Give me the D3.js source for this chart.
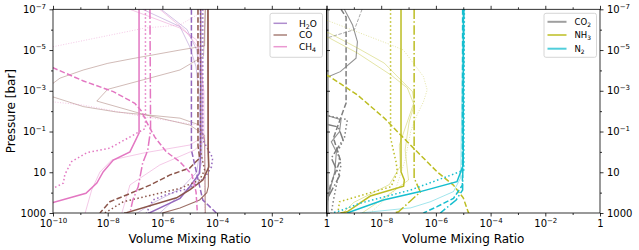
<!DOCTYPE html>
<html>
<head>
<meta charset="utf-8">
<script src="https://cdn.jsdelivr.net/npm/d3@7"></script>
<style>
body { margin: 0; background: #fff; }
text { font-family: "DejaVu Sans", sans-serif; }
</style>
</head>
<body>
<div id="chart"></div>
<script>
// ---- profiles: [volume mixing ratio, pressure in bar] ----
// left panel
var h2oSolid  = [[2.5e-5,1e-7],[2.5e-5,0.8],[2.3e-5,11],[1e-5,51],[4.4e-6,190],[3.5e-7,960],[3e-7,1000]];
var h2oDashed = [[1.15e-5,1e-7],[1.15e-5,0.8],[1.95e-5,19],[3e-5,230],[9.4e-5,1000]];
var h2oDotted = [[3e-5,1e-7],[3e-5,0.26],[6.9e-5,2],[6.2e-5,5.5],[3.5e-5,19],[1e-5,60],[1.5e-6,120],[4.5e-7,230],[2.6e-7,1000]];
var h2oThin1  = [[1.9e-7,1e-7],[4.4e-6,7.1e-7],[1e-5,6.9e-6],[1.7e-5,6.6e-5],[2.3e-5,2.8e-3],[2.3e-5,1],[1.8e-5,10],[5e-6,60],[5e-7,300],[1.2e-7,1000]];
var h2oThin2  = [[9e-7,1e-7],[8e-6,1e-6],[1.8e-5,1e-5],[2.8e-5,1e-3],[2.8e-5,3],[1.5e-5,40],[3e-6,200],[8e-7,1000]];

var coSolid  = [[4.6e-5,1e-7],[4.7e-5,0.8],[5e-5,5.4],[3e-5,24],[1e-5,74],[3.3e-6,180],[4.9e-8,960],[4e-8,1000]];
var coDashed = [[2e-5,1e-7],[2e-5,0.5],[2.3e-5,2],[1e-5,6.2],[1.9e-6,13.5],[3.5e-7,43],[4.9e-8,130],[1.2e-8,280],[5.2e-9,1000]];
var coDotted = [[2.5e-5,1e-7],[2.5e-5,1],[3.5e-5,7.8],[2.3e-5,24],[4.4e-6,62],[3.7e-8,280],[7.9e-9,1000]];
var coMid    = [[4.7e-5,1e-7],[4.8e-5,50],[4.2e-5,100],[2.3e-5,230],[4.4e-6,570],[1e-6,1000]];
var coThin1  = [[3.7e-5,1e-7],[3.5e-5,6.3e-6],[4.4e-6,1e-5],[8.5e-8,2.6e-5],[1e-8,4.5e-5],[1.3e-9,9.5e-5],[1.8e-10,2.4e-4],[1e-10,4.3e-4],[2e-11,1.1e-3],[1e-10,2e-3],[1.3e-9,6e-3],[2.1e-8,0.011],[2.3e-7,0.015],[4.4e-6,0.022],[2.3e-5,0.048],[3.5e-5,0.26],[3.7e-5,1000]];
var coThin2  = [[3.7e-5,1e-7],[3.2e-5,2e-5],[4.4e-6,9.5e-5],[1e-8,8.5e-4],[4e-9,3.2e-3],[2.3e-7,0.015],[1e-5,0.048],[3.5e-5,0.15],[3.7e-5,1000]];

var ch4Solid   = [[1.4e-7,1e-7],[1.4e-7,0.12],[6.5e-8,1],[1.6e-8,2.5],[6.9e-9,9.4],[4e-9,34],[1.6e-9,107],[1e-10,310],[4e-11,600]];
var ch4Dotted  = [[2.4e-7,1e-7],[2.4e-7,0.07],[1.2e-8,0.65],[1.7e-9,1.1],[4.8e-10,3],[2.7e-10,13],[2.4e-10,34],[1e-10,62],[4e-11,100]];
var ch4DashDot = [[3.5e-7,1e-7],[3.7e-7,0.085],[2.9e-7,0.85],[1.9e-7,3.5],[1.3e-7,52],[8.3e-8,230],[6.5e-8,1000]];
var ch4Dashed  = [[3e-11,3e-5],[1e-10,7.4e-5],[1.3e-9,3.3e-4],[1.6e-8,1.1e-3],[9.8e-8,4.1e-3],[1.7e-7,9.8e-3],[2.6e-7,0.033],[5.3e-7,0.19],[1.4e-6,1],[4.4e-6,3.1],[1.2e-5,13],[1.7e-5,93],[1.9e-5,1000]];
var ch4Thin1   = [[6.5e-8,1e-7],[4.4e-6,8.3e-7],[1.8e-5,3.2e-6],[2.8e-5,4.4e-5],[3e-5,1.3e-3],[2.8e-5,0.2],[1e-5,0.46],[2.3e-7,1.1],[1.4e-8,2.5],[5.2e-9,9.7],[2.6e-9,74],[1.5e-9,1000]];
var ch4Thin2   = [[8e-7,1e-7],[6.3e-6,1e-6],[2e-5,7e-6],[3.3e-5,1e-3],[3.3e-5,0.3],[1.5e-5,0.81],[8e-7,4.4],[6.5e-8,42],[3.3e-8,1000]];
var ch4ThinDot = [[4e-5,1e-7],[4.4e-6,5.9e-7],[2.3e-7,8.3e-7],[1e-10,6.9e-6],[1e-11,2e-4],[1e-10,3.5e-3],[1.2e-9,5e-3],[2.3e-7,0.019],[2.3e-5,0.05],[3.5e-5,0.3],[3.5e-5,1000]];

// right panel
var co2Edge    = [[1.08e-10,1e-7],[1.08e-10,1000]];
var co2Dashed  = [[3.4e-10,1e-7],[5.2e-10,2.4e-7],[5.2e-10,4e-3],[3.4e-10,0.019],[2.7e-10,0.045],[1.8e-10,0.21],[3.2e-10,2.5],[1.4e-10,42],[1e-10,230],[6e-11,1000]];
var co2Curve   = [[4.5e-10,1e-7],[9e-10,5.9e-7],[1.35e-9,3.9e-6],[1.2e-9,2.5e-5],[3.2e-10,1.15e-4],[1.1e-10,2.1e-4],[3e-11,4e-4],[5e-11,0.012],[3.4e-10,0.026],[3e-10,0.1],[1.5e-10,0.32],[2.3e-10,1],[2e-10,9.4],[1.3e-10,90],[9e-11,1000]];
var co2ThinDash = [[2e-9,1e-7],[1.05e-9,1e-6],[1.5e-10,2.2e-6],[3e-11,4e-6]];
var co2Dotted  = [[3e-11,1e-7],[3e-11,0.012],[5.8e-10,0.026],[4.5e-10,0.21],[2.5e-10,1],[3.4e-10,4.4],[2.3e-10,43],[1.8e-10,230],[1.5e-10,1000]];
var co2DashDot = [[3e-11,1e-7],[3e-11,0.03],[2.7e-10,0.06],[4e-10,0.25],[1.5e-10,2],[3e-10,15],[1.2e-10,150],[8e-11,1000]];

var nh3Solid   = [[5.3e-8,1e-7],[5.3e-8,9.4],[7e-8,24],[6.6e-8,48],[4e-9,147],[5.7e-10,870],[3.2e-10,1000]];
var nh3Dotted  = [[2.2e-8,1e-7],[2.2e-8,0.21],[3.5e-8,3.2],[3.9e-8,9.4],[2.3e-8,51],[3e-10,280],[2.6e-10,1000]];
var nh3DashDot = [[1.6e-7,1e-7],[1.6e-7,19],[2.7e-7,93],[4.3e-8,870],[2.8e-8,1000]];
var nh3Dashed  = [[5e-11,1.2e-4],[1.3e-10,2e-4],[1.35e-9,1.6e-3],[1.3e-8,0.022],[9e-8,0.32],[1.1e-6,9.4],[4.4e-6,43],[1e-5,180],[1.5e-5,870],[1.6e-5,1000]];
var nh3Thin1   = [[3e-11,8e-7],[1.3e-10,1.5e-6],[1.35e-9,7.9e-6],[1.3e-8,4.4e-5],[5.3e-8,3e-4],[1.4e-7,1.1e-3],[1.6e-7,3.5e-3],[1.2e-7,0.011],[4.6e-8,0.46],[5e-8,5],[2e-8,40],[1e-9,300],[4e-10,1000]];
var nh3Thin2   = [[3e-11,1.3e-6],[1.3e-10,2.6e-6],[1.35e-9,1.4e-5],[2.3e-8,1.7e-4],[9e-8,7.2e-4],[1.6e-7,5e-3],[1.05e-7,0.034],[7.5e-8,0.8],[1e-7,24],[1e-8,230],[2e-9,1000]];
var nh3ThinDot = [[3e-11,2e-7],[1e-10,3.4e-7],[2.3e-8,5.6e-6],[6.5e-8,1e-5],[3.5e-7,2e-4],[4.8e-7,9e-4],[3.5e-7,3.5e-3],[2e-7,0.016],[1.2e-7,0.1],[7.5e-8,2.5],[3.3e-8,74],[4e-9,1000]];

var n2Solid   = [[1.02e-5,1e-7],[1e-5,4.4],[5.9e-6,29],[2.7e-7,89],[1.2e-8,230],[5.7e-10,1000]];
var n2Dotted  = [[1.1e-5,1e-7],[1.05e-5,7.8],[2.5e-6,16.5],[1.2e-7,74],[1.7e-9,330],[3e-10,800],[1.5e-10,1000]];
var n2Thin    = [[1e-5,1e-7],[8e-6,19],[4.4e-6,89],[6.3e-7,280],[1.2e-7,560],[1.7e-9,1000]];
var n2Dashed  = [[9.5e-6,1e-7],[9.3e-6,43],[4.4e-6,190],[1.1e-6,490],[3.5e-7,1000]];
var n2DashDot = [[1.05e-5,1e-7],[9.5e-6,74],[5.5e-6,230],[1.45e-6,1000]];

// ticks and legend names
var xMajor = [1e-10, 1e-8, 1e-6, 1e-4, 1e-2, 1];
var xMinor = [1e-9, 1e-7, 1e-5, 1e-3, 1e-1];
var yMajor = [1e-7, 1e-5, 1e-3, 1e-1, 10, 1000];
var yMinor = [1e-6, 1e-4, 1e-2, 1, 100];
var leftSpecies = [["H", "2", "O", "H2O"], ["CO", "", "", "CO"], ["CH", "4", "", "CH4"]];
var rightSpecies = [["CO", "2", "", "CO2"], ["NH", "3", "", "NH3"], ["N", "2", "", "N2"]];

var colors = {H2O: "#9467bd", CO: "#8c564b", CH4: "#e377c2", CO2: "#7f7f7f", NH3: "#bcbd22", N2: "#17becf"};
var styles = {
	solid:   {w: 1.5, dash: null, op: 1},
	dashed:  {w: 1.5, dash: "5.5,2.4", op: 1},
	dotted:  {w: 1.5, dash: "1.5,2.5", op: 1},
	dashdot: {w: 1.5, dash: "9.6,2.4,1.5,2.4", op: 1},
	mid:     {w: 1.1, dash: null, op: 0.85},
	edge:    {w: 2.6, dash: null, op: 0.9},
	thin:    {w: 0.8, dash: null, op: 0.5},
	thinDot: {w: 0.9, dash: "1,1.6", op: 0.45},
	thinDash:{w: 0.9, dash: "3.5,1.5", op: 0.75}
};

var runs = [
	{p: 0, sp: "H2O", k: "thin", d: h2oThin1}, {p: 0, sp: "H2O", k: "thin", d: h2oThin2},
	{p: 0, sp: "CO", k: "thin", d: coThin1}, {p: 0, sp: "CO", k: "thin", d: coThin2},
	{p: 0, sp: "CH4", k: "thin", d: ch4Thin1}, {p: 0, sp: "CH4", k: "thin", d: ch4Thin2},
	{p: 0, sp: "CH4", k: "thinDot", d: ch4ThinDot},
	{p: 0, sp: "H2O", k: "solid", d: h2oSolid}, {p: 0, sp: "H2O", k: "dashed", d: h2oDashed},
	{p: 0, sp: "H2O", k: "dotted", d: h2oDotted},
	{p: 0, sp: "CO", k: "solid", d: coSolid}, {p: 0, sp: "CO", k: "dashed", d: coDashed},
	{p: 0, sp: "CO", k: "dotted", d: coDotted}, {p: 0, sp: "CO", k: "mid", d: coMid},
	{p: 0, sp: "CH4", k: "solid", d: ch4Solid}, {p: 0, sp: "CH4", k: "dashed", d: ch4Dashed},
	{p: 0, sp: "CH4", k: "dotted", d: ch4Dotted}, {p: 0, sp: "CH4", k: "dashdot", d: ch4DashDot},

	{p: 1, sp: "CO2", k: "edge", d: co2Edge},
	{p: 1, sp: "CO2", k: "mid", d: co2Curve}, {p: 1, sp: "CO2", k: "thinDash", d: co2ThinDash},
	{p: 1, sp: "NH3", k: "thin", d: nh3Thin1}, {p: 1, sp: "NH3", k: "thin", d: nh3Thin2},
	{p: 1, sp: "NH3", k: "thinDot", d: nh3ThinDot},
	{p: 1, sp: "N2", k: "thin", d: n2Thin},
	{p: 1, sp: "CO2", k: "dashed", d: co2Dashed}, {p: 1, sp: "CO2", k: "dotted", d: co2Dotted},
	{p: 1, sp: "CO2", k: "dashdot", d: co2DashDot},
	{p: 1, sp: "NH3", k: "solid", d: nh3Solid}, {p: 1, sp: "NH3", k: "dotted", d: nh3Dotted},
	{p: 1, sp: "NH3", k: "dashdot", d: nh3DashDot}, {p: 1, sp: "NH3", k: "dashed", d: nh3Dashed},
	{p: 1, sp: "N2", k: "solid", d: n2Solid}, {p: 1, sp: "N2", k: "dotted", d: n2Dotted},
	{p: 1, sp: "N2", k: "dashed", d: n2Dashed}, {p: 1, sp: "N2", k: "dashdot", d: n2DashDot}
];

var W = 639, H = 250;
var plotTop = 9.3, plotBottom = 213;
var panels = [[53, 326.5], [326.5, 600]];

var svg = d3.select("#chart").append("svg")
	.attr("width", W)
	.attr("height", H);

var y = d3.scaleLog().domain([1e-7, 1000]).range([plotTop, plotBottom]);
var xs = panels.map(function (p) {
	return d3.scaleLog().domain([1e-10, 1]).range(p);
});

function supLabel(t, v) {
	var e = Math.round(Math.log10(v));
	t.text(null);
	if (e >= 0) {
		t.append("tspan").text(String(Math.round(v)));
	} else {
		t.append("tspan").text("10");
		t.append("tspan").attr("dy", -4.5).attr("font-size", 7).text("\u2212" + (-e));
	}
}

function styleAxis(g) {
	g.select(".domain").remove();
	g.selectAll("line").attr("stroke", "#000").attr("stroke-width", 0.8);
	g.attr("font-family", "DejaVu Sans").attr("font-size", 10);
	g.selectAll("text").attr("fill", "#000");
}

// clip paths
var defs = svg.append("defs");
panels.forEach(function (p, i) {
	defs.append("clipPath").attr("id", "clip" + i)
		.append("rect")
		.attr("x", p[0]).attr("y", plotTop)
		.attr("width", p[1] - p[0]).attr("height", plotBottom - plotTop);
});

// lines
var line = d3.line();
runs.forEach(function (r) {
	var x = xs[r.p];
	var st = styles[r.k];
	line.x(function (d) { return x(d[0]); }).y(function (d) { return y(d[1]); });
	svg.append("path")
		.attr("clip-path", "url(#clip" + r.p + ")")
		.attr("d", line(r.d))
		.attr("fill", "none")
		.attr("stroke", colors[r.sp])
		.attr("stroke-width", st.w)
		.attr("stroke-opacity", st.op)
		.attr("stroke-dasharray", st.dash);
});

// spines
panels.forEach(function (p) {
	svg.append("rect")
		.attr("x", p[0]).attr("y", plotTop)
		.attr("width", p[1] - p[0]).attr("height", plotBottom - plotTop)
		.attr("fill", "none").attr("stroke", "#000").attr("stroke-width", 0.8);
});

// x axes
xs.forEach(function (x, i) {
	var gb = svg.append("g").attr("transform", "translate(0," + plotBottom + ")")
		.call(d3.axisBottom(x).tickValues(xMajor).tickSize(3.5).tickPadding(3.5).tickSizeOuter(0));
	styleAxis(gb);
	gb.selectAll(".tick text").each(function (d) {
		if (i === 1 && d === 1e-10) { d3.select(this).remove(); return; }
		supLabel(d3.select(this), d);
	});
	styleAxis(svg.append("g").attr("transform", "translate(0," + plotBottom + ")")
		.call(d3.axisBottom(x).tickValues(xMinor).tickSize(2).tickFormat("").tickSizeOuter(0)));
	styleAxis(svg.append("g").attr("transform", "translate(0," + plotTop + ")")
		.call(d3.axisTop(x).tickValues(xMajor).tickSize(3.5).tickFormat("").tickSizeOuter(0)));
	styleAxis(svg.append("g").attr("transform", "translate(0," + plotTop + ")")
		.call(d3.axisTop(x).tickValues(xMinor).tickSize(2).tickFormat("").tickSizeOuter(0)));
});

// y axes: labels on the outer sides
var gl = svg.append("g").attr("transform", "translate(" + panels[0][0] + ",0)")
	.call(d3.axisLeft(y).tickValues(yMajor).tickSize(3.5).tickPadding(3.5).tickSizeOuter(0));
styleAxis(gl);
gl.selectAll(".tick text").each(function (d) { supLabel(d3.select(this), d); });
styleAxis(svg.append("g").attr("transform", "translate(" + panels[0][0] + ",0)")
	.call(d3.axisLeft(y).tickValues(yMinor).tickSize(2).tickFormat("").tickSizeOuter(0)));

var gr = svg.append("g").attr("transform", "translate(" + panels[1][1] + ",0)")
	.call(d3.axisRight(y).tickValues(yMajor).tickSize(3.5).tickPadding(3.5).tickSizeOuter(0));
styleAxis(gr);
gr.selectAll(".tick text").each(function (d) { supLabel(d3.select(this), d); });
styleAxis(svg.append("g").attr("transform", "translate(" + panels[1][1] + ",0)")
	.call(d3.axisRight(y).tickValues(yMinor).tickSize(2).tickFormat("").tickSizeOuter(0)));

// ticks of the left panel's right side, pointing into the right panel
styleAxis(svg.append("g").attr("transform", "translate(" + panels[0][1] + ",0)")
	.call(d3.axisRight(y).tickValues(yMajor).tickSize(3.5).tickFormat("").tickSizeOuter(0)));
styleAxis(svg.append("g").attr("transform", "translate(" + panels[0][1] + ",0)")
	.call(d3.axisRight(y).tickValues(yMinor).tickSize(2).tickFormat("").tickSizeOuter(0)));

// axis titles
panels.forEach(function (p) {
	svg.append("text")
		.attr("x", (p[0] + p[1]) / 2).attr("y", 243)
		.attr("text-anchor", "middle").attr("font-size", 12)
		.text("Volume Mixing Ratio");
});
svg.append("text")
	.attr("transform", "translate(14.5," + ((plotTop + plotBottom) / 2) + ") rotate(-90)")
	.attr("text-anchor", "middle").attr("font-size", 12)
	.text("Pressure [bar]");

// legends
function legend(x0, y0, w, h, items, rows, lx0, lx1, tx, fs, lw) {
	svg.append("rect")
		.attr("x", x0).attr("y", y0).attr("width", w).attr("height", h)
		.attr("rx", 2).attr("fill", "#fff").attr("fill-opacity", 0.8)
		.attr("stroke", "#ccc").attr("stroke-width", 0.8);
	items.forEach(function (it, i) {
		var yy = rows[i];
		svg.append("line")
			.attr("x1", lx0).attr("x2", lx1).attr("y1", yy).attr("y2", yy)
			.attr("stroke", colors[it[3]]).attr("stroke-width", lw).attr("stroke-opacity", 0.75);
		var t = svg.append("text").attr("x", tx).attr("y", yy + fs * 0.36).attr("font-size", fs).attr("fill", "#000");
		t.append("tspan").text(it[0]);
		if (it[1]) t.append("tspan").attr("dy", fs * 0.28).attr("font-size", fs * 0.7).text(it[1]);
		if (it[2]) t.append("tspan").attr("dy", -fs * 0.28).text(it[2]);
	});
}
legend(270, 13.3, 52.5, 44, leftSpecies, [23.3, 35, 46.7], 273.5, 287, 299, 9, 1.5);
legend(544, 13.3, 52.5, 44, rightSpecies, [21.8, 35, 48.7], 547.5, 566.5, 574.5, 8.5, 2);
</script>
</body>
</html>
